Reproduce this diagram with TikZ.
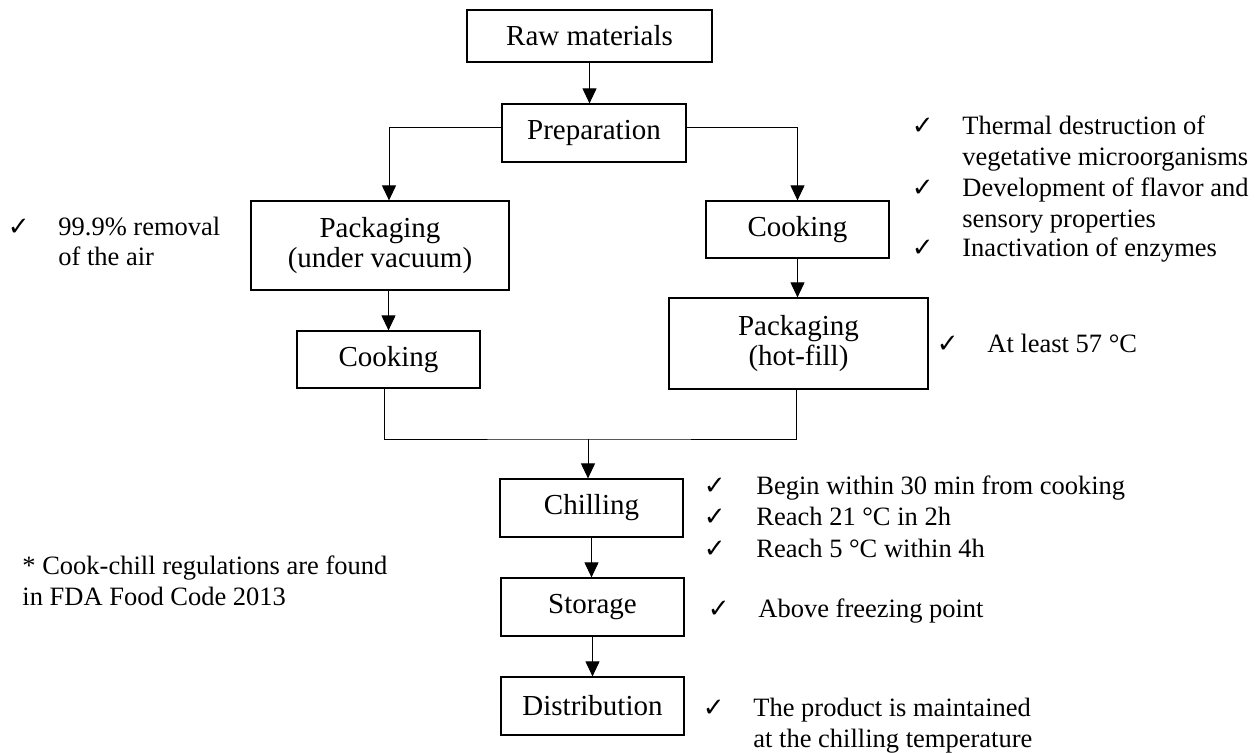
\documentclass[tikz,border=0pt]{standalone}
\usepackage{fontspec}
\setmainfont{Liberation Serif}
\newfontfamily\tickfont{DejaVu Sans}
\usetikzlibrary{arrows.meta}

\newcommand{\boxfont}{\fontsize{14.5}{14.8}\selectfont}
\newcommand{\notefont}{\fontsize{13.25}{15.2}\selectfont}

\begin{document}
\begin{tikzpicture}[x=0.5pt,y=-0.5pt,
    stage/.style={draw,line width=0.6pt,inner sep=0pt,align=center,font=\boxfont},
    note/.style={anchor=base west,inner sep=0pt,align=left,font=\notefont},
    tick/.style={anchor=base east,inner sep=0pt,font=\tickfont\fontsize{13}{13}\selectfont},
    flow/.style={-{Triangle[width=7pt,length=7.5pt]},line width=0.5pt}]
    \useasboundingbox (0,0) rectangle (1257,753);
    % process boxes
    \node [stage,minimum width=122.5pt,minimum height=26pt] (raw) at (589.5,36) {Raw materials};
    \node [stage,minimum width=92pt,minimum height=29pt] (prep) at (594,133) {Preparation};
    \node [stage,minimum width=129pt,minimum height=44.5pt] (pkgvac) at (380,245.5) {Packaging\\(under vacuum)};
    \node [stage,minimum width=91.5pt,minimum height=28.5pt] (cooka) at (388.5,359.5) {Cooking};
    \node [stage,minimum width=91.5pt,minimum height=28.5pt] (cookb) at (797.5,229.5) {Cooking};
    \node [stage,minimum width=129.5pt,minimum height=45.5pt] (pkghot) at (798.5,343.5) {Packaging\\(hot-fill)};
    \node [stage,minimum width=91.5pt,minimum height=29pt] (chill) at (591.5,508) {Chilling};
    \node [stage,minimum width=91.5pt,minimum height=29pt] (stor) at (592.5,607) {Storage};
    \node [stage,minimum width=91.5pt,minimum height=29pt] (dist) at (592.5,706) {Distribution};
    \coordinate (join) at (588,439);
    % connectors
    \draw [flow] (raw.south) -- (raw.south |- prep.north);
    \draw [flow] ([yshift=2.5pt]prep.west) -| ([xshift=4.5pt]pkgvac.north);
    \draw [flow] ([yshift=2.5pt]prep.east) -| (cookb.north);
    \draw [flow] (pkgvac.south -| cooka.north) -- (cooka.north);
    \draw [flow] (cookb.south) -- (cookb.south |- pkghot.north);
    \draw [line width=0.5pt] ([xshift=-2pt]cooka.south) |- (join) -| ([xshift=-1pt]pkghot.south);
    \draw [flow] (join) -- (join |- chill.north);
    \draw [flow] (chill.south) -- (chill.south |- stor.north);
    \draw [flow] (stor.south) -- (stor.south |- dist.north);
    % notes (two-line notes sit on the baseline of their last line)
    \node [note] (vac) at (58,266) {99.9\% removal\\of the air};
    \node [tick] (vacc) at ([xshift=-14pt,yshift=15.2pt]vac.base west) {✓};
    \node [note] (ck1) at (962,165.4) {Thermal destruction of\\vegetative microorganisms};
    \node [tick] (ck1c) at ([xshift=-14pt,yshift=15.2pt]ck1.base west) {✓};
    \node [note] (ck2) at (962,227.4) {Development of flavor and\\sensory properties};
    \node [tick] (ck2c) at ([xshift=-14pt,yshift=15.2pt]ck2.base west) {✓};
    \node [note] (ck3) at (962,257) {Inactivation of enzymes};
    \node [tick] (ck3c) at ([xshift=-14pt]ck3.base west) {✓};
    \node [note] (hot) at (987,353) {At least 57 °C};
    \node [tick] (hotc) at ([xshift=-14pt]hot.base west) {✓};
    \node [note] (ch1) at (756,494) {Begin within 30 min from cooking};
    \node [tick] (ch1c) at ([xshift=-15pt]ch1.base west) {✓};
    \node [note] (ch2) at (756,525) {Reach 21 °C in 2h};
    \node [tick] (ch2c) at ([xshift=-15pt]ch2.base west) {✓};
    \node [note] (ch3) at (756,557) {Reach 5 °C within 4h};
    \node [tick] (ch3c) at ([xshift=-15pt]ch3.base west) {✓};
    \node [note] (st) at (758,617) {Above freezing point};
    \node [tick] (stc) at ([xshift=-14pt]st.base west) {✓};
    \node [note] (di) at (753,747) {The product is maintained\\at the chilling temperature};
    \node [tick] (dic) at ([xshift=-14pt,yshift=15.2pt]di.base west) {✓};
    \node [note] (fda) at (22,605) {* Cook-chill regulations are found\\in FDA Food Code 2013};
\end{tikzpicture}
\end{document}
